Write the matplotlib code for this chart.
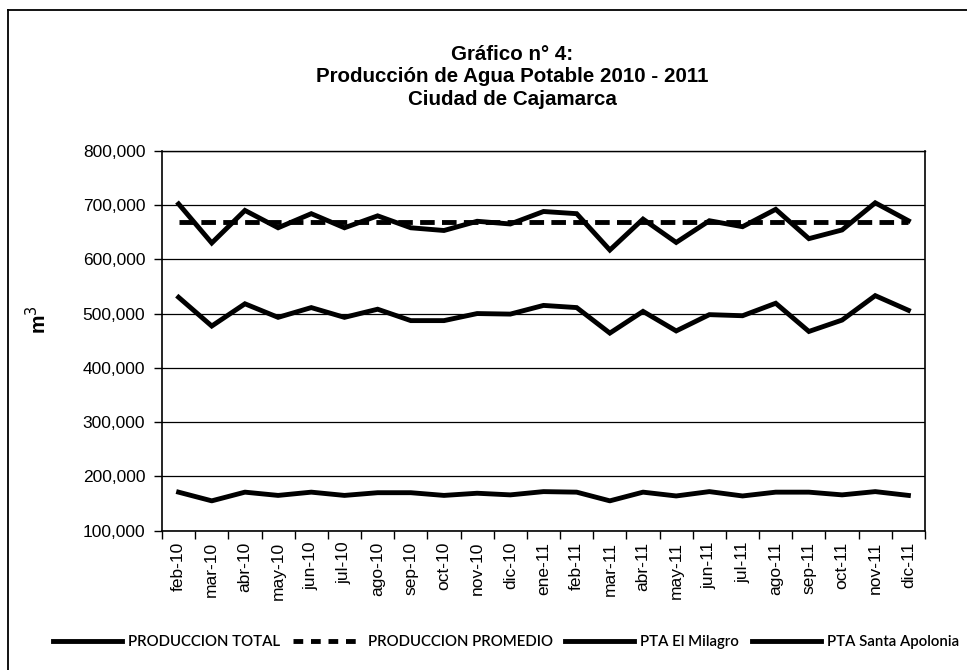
import matplotlib
matplotlib.use("Agg")
import matplotlib.pyplot as plt
from matplotlib.lines import Line2D
from matplotlib.ticker import FuncFormatter, FixedLocator
import numpy as np

meses = ["feb-10", "mar-10", "abr-10", "may-10", "jun-10", "jul-10", "ago-10",
         "sep-10", "oct-10", "nov-10", "dic-10", "ene-11", "feb-11", "mar-11",
         "abr-11", "may-11", "jun-11", "jul-11", "ago-11", "sep-11", "oct-11",
         "nov-11", "dic-11"]

produccion_total = [702000, 630000, 690000, 658000, 684000, 658000, 680000,
                    658000, 653000, 670000, 665000, 688000, 684000, 617000,
                    674000, 631000, 671000, 660000, 692000, 638000, 654000,
                    704000, 671000]

produccion_promedio = 668000

pta_el_milagro = [530000, 477000, 518000, 493000, 511000, 493000, 508000,
                  487000, 487000, 500000, 499000, 515000, 511000, 464000,
                  504000, 468000, 498000, 496000, 519000, 467000, 488000,
                  533000, 506000]

pta_santa_apolonia = [171000, 155000, 171000, 165000, 171000, 165000, 170000,
                      170000, 165000, 169000, 166000, 172000, 171000, 155000,
                      171000, 164000, 172000, 164000, 171000, 171000, 166000,
                      172000, 165000]

titulo = "Gráfico n° 4:\nProducción de Agua Potable 2010 - 2011\nCiudad de Cajamarca"
etiquetas = ["PRODUCCION TOTAL", "PRODUCCION PROMEDIO", "PTA El Milagro", "PTA Santa Apolonia"]

plt.rcParams['font.family'] = ['Liberation Sans', 'DejaVu Sans']

W, H = 967, 670
fig = plt.figure(figsize=(W / 100, H / 100), dpi=100)
fig.patch.set_facecolor("white")

ax = fig.add_axes([162 / W, 1 - 530.7 / H, (925 - 162) / W, (530.7 - 150.7) / H])

x = np.arange(len(meses))
lw = 3.5
ax.plot(x, produccion_total, color="black", lw=lw, solid_joinstyle="miter", zorder=4)
ax.plot(x, np.full(len(meses), produccion_promedio), color="black", lw=lw,
        dashes=(3.0, 1.5), zorder=4)
ax.plot(x, pta_el_milagro, color="black", lw=lw, solid_joinstyle="miter", zorder=4)
ax.plot(x, pta_santa_apolonia, color="black", lw=lw, zorder=4)

ax.set_xlim(-0.5, len(meses) - 0.5)
ax.set_ylim(100000, 800000)
ax.set_yticks(np.arange(100000, 800001, 100000))
ax.yaxis.set_major_formatter(FuncFormatter(lambda v, p: f"{int(v):,}"))
ax.grid(axis="y", color="black", lw=0.9, zorder=1)

ax.set_xticks(x)
ax.set_xticklabels(meses, rotation=90, fontsize=12.5)
ax.xaxis.set_minor_locator(FixedLocator(np.arange(-0.5, len(meses), 1.0)))
ax.tick_params(axis="x", which="major", length=0, pad=8)
ax.tick_params(axis="x", which="minor", length=6, width=1, direction="out", color="black")
ax.tick_params(axis="y", which="major", length=6, width=1, labelsize=12.5, pad=6)

for s in ["left", "right", "bottom"]:
    ax.spines[s].set_linewidth(1.2)
    ax.spines[s].set_color("black")
ax.spines["top"].set_linewidth(1.0)

fig.text(38 / W, 1 - 320 / H, "m$^3$", rotation=90, fontsize=15, fontweight="bold",
         ha="center", va="center")

fig.text(512 / W, 1 - 77 / H, titulo, ha="center", va="center", fontsize=14.8,
         fontweight="bold", linespacing=1.22)

handles = [Line2D([], [], color="black", lw=lw),
           Line2D([], [], color="black", lw=lw, dashes=(2.0, 1.6)),
           Line2D([], [], color="black", lw=lw),
           Line2D([], [], color="black", lw=lw)]
leg = fig.legend(handles, etiquetas, loc="center", bbox_to_anchor=(506 / W, 1 - 642 / H),
                 ncol=4, frameon=False, handlelength=4.6, handletextpad=0.4,
                 columnspacing=0.85, prop={"family": "Lato", "size": 10.8, "weight": "semibold"})

# outer frame (left and top edges visible)
fig.add_artist(Line2D([8 / W, 8 / W], [0, 1 - 10 / H], transform=fig.transFigure,
                      color="black", lw=1.3))
fig.add_artist(Line2D([8 / W, 1], [1 - 10 / H, 1 - 10 / H], transform=fig.transFigure,
                      color="black", lw=1.3))

fig.savefig("out.png", dpi=100, facecolor="white")
